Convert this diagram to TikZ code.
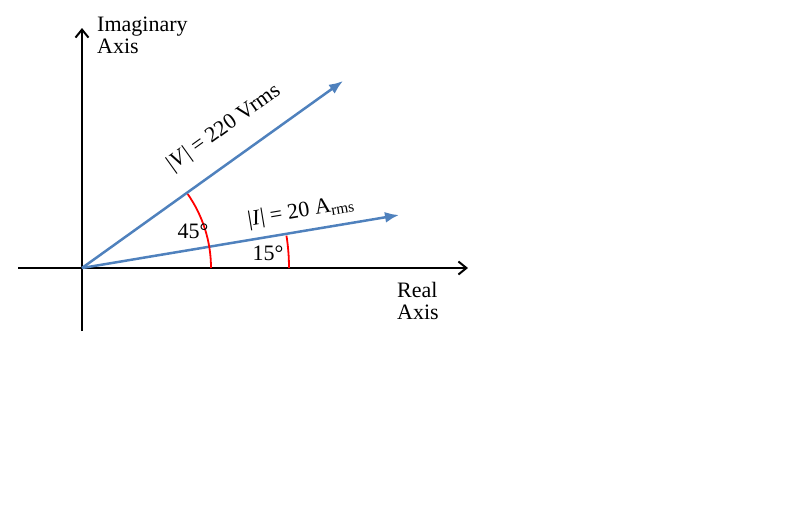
\documentclass[tikz,border=0pt]{standalone}
\usepackage{fontspec}
\setmainfont{Liberation Serif}
\usetikzlibrary{arrows.meta}
\tikzset{
  axis/.style={-{Straight Barb[length=8pt,width=13pt]}, line width=2pt},
  phasor/.style={-{Latex[length=14pt,width=11pt]}, line width=2.5pt, draw={rgb,255:red,79;green,129;blue,189}},
  angle/.style={red, line width=1.8pt},
  lbl/.style={font=\fontsize{22}{26}\selectfont, inner sep=0pt},
}
\begin{document}
\begin{tikzpicture}[x=1pt,y=-1pt]
  \useasboundingbox (0,0) rectangle (808,509);
  \coordinate (o) at (82,268);
  \coordinate (xl) at (18,268);
  \coordinate (xr) at (468,268);
  \coordinate (yb) at (82,331);
  \coordinate (yt) at (82,28);
  \coordinate (vtip) at (343,81);
  \coordinate (itip) at (399,215);

  \draw[axis] (xl) -- (xr);
  \draw[axis] (yb) -- (yt);
  \draw[phasor] (o) -- (vtip);
  \draw[phasor] (o) -- (itip);

  % angle arcs
  \draw[angle] (211,268) arc[start angle=0, end angle=-35, radius=129];
  \draw[angle] (289,268) arc[start angle=0, end angle=-9, radius=207];

  \node[lbl, align=left, anchor=north west] (imag) at (97,17) {Imaginary\\[-4pt]Axis};
  \node[lbl, align=left, anchor=north west] (real) at (397,282) {Real\\[-4pt]Axis};
  \node[lbl, rotate=35.6] (vlab) at (224,128) {|\textit{V}| = 220 Vrms};
  \node[lbl, rotate=9.5] (ilab) at (301,212) {|\textit{I}| = 20 A\textsubscript{rms}};
  \node[lbl] (a45) at (193,231) {45°};
  \node[lbl] (a15) at (268,253) {15°};
\end{tikzpicture}
\end{document}
